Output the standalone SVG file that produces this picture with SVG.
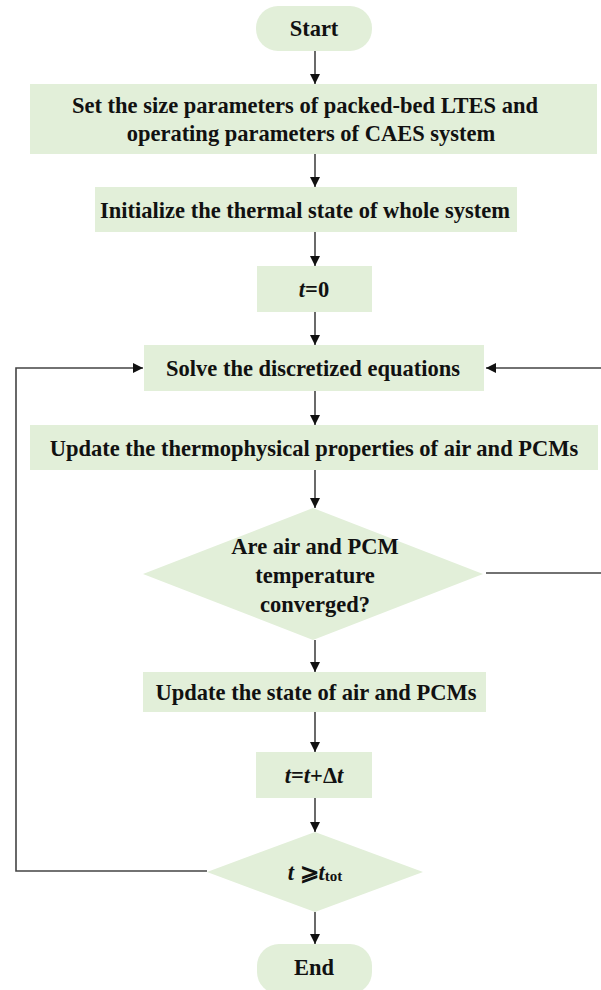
<svg xmlns="http://www.w3.org/2000/svg" width="601" height="990" viewBox="0 0 601 990">
<defs>
<marker id="ah" viewBox="0 0 10 10" refX="10" refY="5" markerWidth="10" markerHeight="10" markerUnits="userSpaceOnUse" orient="auto">
<path d="M0,0 L10,5 L0,10 z" fill="#111"/>
</marker>
<style>
.n{fill:#e2efd9;stroke:none}
.t{font-family:"Liberation Serif","Times New Roman",serif;font-weight:bold;font-size:22.5px;fill:#111;text-anchor:middle;dominant-baseline:central}
.c{fill:none;stroke:#444;stroke-width:1.6}
.i{font-style:italic}
</style>
</defs>
<rect width="601" height="990" fill="#fff"/>
<g id="start"><rect class="n" x="256" y="6" width="116" height="45" rx="22"/><text class="t" x="314" y="28">Start</text></g>
<g id="setparams"><rect class="n" x="30" y="84" width="567" height="70"/><text class="t" x="305" y="105">Set the size parameters of packed-bed LTES and</text><text class="t" x="311" y="133">operating parameters of CAES system</text></g>
<g id="init"><rect class="n" x="95" y="187" width="422" height="45"/><text class="t" x="305" y="210">Initialize the thermal state of whole system</text></g>
<g id="t0"><rect class="n" x="257" y="266" width="115" height="46"/><text class="t" x="314" y="289"><tspan class="i">t</tspan>=0</text></g>
<g id="solve"><rect class="n" x="144" y="345" width="340" height="46"/><text class="t" x="313" y="368">Solve the discretized equations</text></g>
<g id="updprops"><rect class="n" x="30" y="425" width="568" height="45"/><text class="t" x="314" y="448">Update the thermophysical properties of air and PCMs</text></g>
<g id="converged"><polygon class="n" points="313,508 483,574 313,640 143,574"/><text class="t" x="315" y="546">Are air and PCM</text><text class="t" x="315" y="575">temperature</text><text class="t" x="315" y="604">converged?</text></g>
<g id="updstate"><rect class="n" x="143" y="672" width="343" height="40"/><text class="t" x="316" y="692">Update the state of air and PCMs</text></g>
<g id="tinc"><rect class="n" x="256" y="752" width="116" height="46"/><text class="t" x="314" y="775"><tspan class="i">t</tspan>=<tspan class="i">t</tspan>+Δ<tspan class="i">t</tspan></text></g>
<g id="ttot"><polygon class="n" points="315,832 423,872 315,912 207,872"/><text class="t" x="315" y="872"><tspan class="i">t</tspan> ⩾<tspan class="i">t</tspan><tspan font-size="15" dy="4">tot</tspan></text></g>
<g id="end"><rect class="n" x="257" y="944" width="115" height="50" rx="22"/><text class="t" x="314" y="967">End</text></g>
<g id="connectors">
<line class="c" x1="315" y1="51" x2="315" y2="84" marker-end="url(#ah)"/>
<line class="c" x1="315" y1="154" x2="315" y2="187" marker-end="url(#ah)"/>
<line class="c" x1="315" y1="232" x2="315" y2="266" marker-end="url(#ah)"/>
<line class="c" x1="315" y1="312" x2="315" y2="345" marker-end="url(#ah)"/>
<line class="c" x1="315" y1="391" x2="315" y2="425" marker-end="url(#ah)"/>
<line class="c" x1="315" y1="470" x2="315" y2="508" marker-end="url(#ah)"/>
<line class="c" x1="315" y1="640" x2="315" y2="672" marker-end="url(#ah)"/>
<line class="c" x1="315" y1="712" x2="315" y2="752" marker-end="url(#ah)"/>
<line class="c" x1="315" y1="798" x2="315" y2="832" marker-end="url(#ah)"/>
<line class="c" x1="315" y1="912" x2="315" y2="944" marker-end="url(#ah)"/>
<path class="c" d="M486,573 H604 V368 H486" marker-end="url(#ah)"/>
<path class="c" d="M207,871 H16 V368 H143" marker-end="url(#ah)"/>
</g>
</svg>
